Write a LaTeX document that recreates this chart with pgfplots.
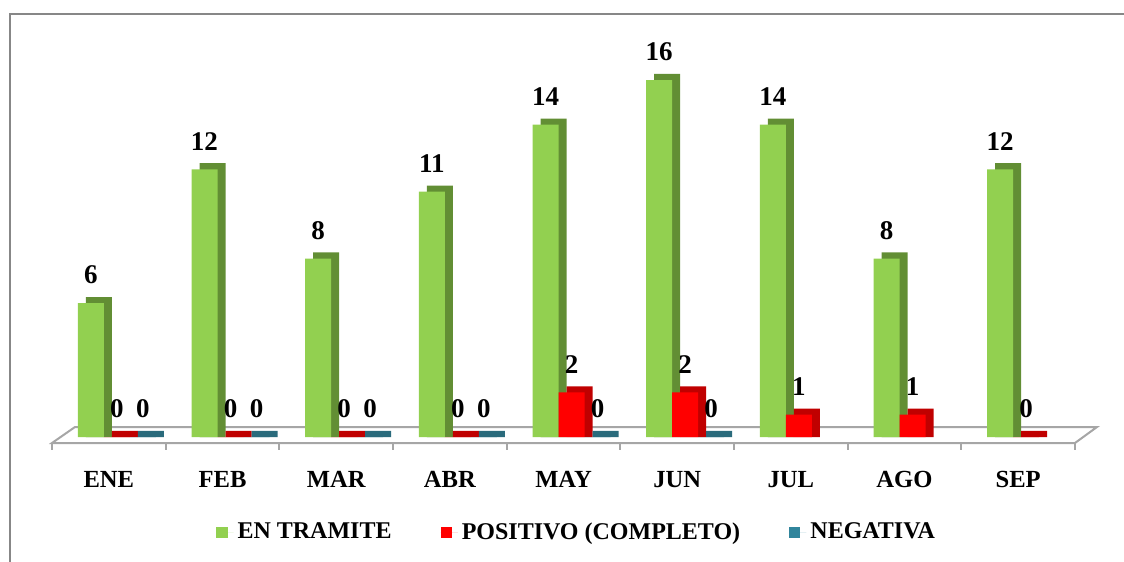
\documentclass[border=0pt]{standalone}
\usepackage{fontspec}
\setmainfont{Liberation Serif}
\usepackage{pgfplots}
\usepackage{pgfplotstable}
\pgfplotsset{compat=1.18}
\definecolor{gfront}{HTML}{92D050}
\definecolor{gdark}{HTML}{628E34}
\definecolor{rfront}{HTML}{FF0000}
\definecolor{rdark}{HTML}{C00000}
\definecolor{tfront}{HTML}{31859C}
\definecolor{tdark}{HTML}{2A6B7C}
\definecolor{bordergray}{HTML}{878787}
\definecolor{floorgray}{HTML}{A6A6A6}
\pgfplotstableread{
x g r t
0 6 0 0
1 12 0 0
2 8 0 0
3 11 0 0
4 14 2 0
5 16 2 0
6 14 1 nan
7 8 1 nan
8 12 0 nan
}\data
\pgfplotsset{
  vlabel/.style={every node near coord/.style={font=\fontsize{13.5}{16}\selectfont\bfseries, anchor=south, inner sep=0pt, yshift=9.3pt, xshift=#1}},
}
\begin{document}
\begin{tikzpicture}
\useasboundingbox (0,0) rectangle (562pt,281pt);
\begin{axis}[
  at={(30pt,62.5pt)}, anchor=south west,
  scale only axis, width=511.5pt, height=200.8pt,
  xmin=-0.5, xmax=8.5, ymin=0, ymax=18,
  enlargelimits=false, clip=false,
  /pgf/number format/assume math mode=true,
  hide y axis,
  axis x line*=bottom,
  x axis line style={draw=none},
  xtick={0,...,8},
  xticklabels={ENE,FEB,MAR,ABR,MAY,JUN,JUL,AGO,SEP},
  xtick style={draw=none},
  xticklabel style={font=\fontsize{12.3}{14}\selectfont\bfseries, anchor=base, yshift=-25pt, xshift=-4pt},
  legend columns=3,
  legend style={draw=none, fill=none, at={(0.506,-0.237)}, anchor=center,
    font=\fontsize{12}{14}\selectfont\bfseries,
    /tikz/every even column/.append style={column sep=22.5pt}},
  legend image code/.code={\path (0pt,0pt) -- (8.6pt,0pt); \fill[#1] (0pt,-2.8pt) rectangle (5.6pt,2.8pt);},
]
% floor
\draw[floorgray, line width=1pt, fill=white]
  ([shift={(-4pt,-3pt)}]axis cs:-0.5,0) -- ([shift={(-4pt,-3pt)}]axis cs:8.5,0)
  -- ([shift={(7pt,5pt)}]axis cs:8.5,0) -- ([shift={(7.5pt,5pt)}]axis cs:-0.5,0) -- cycle;
\pgfplotsinvokeforeach{-0.5,0.5,1.5,2.5,3.5,4.5,5.5,6.5,7.5,8.5}{
  \draw[floorgray, line width=1pt] ([shift={(-4pt,-3pt)}]axis cs:#1,0) -- ([shift={(-4pt,-6.5pt)}]axis cs:#1,0);
}
% green
\addplot[ybar, bar width=13pt, bar shift=-9pt, fill=gdark, draw=none, forget plot]
  table[x=x, y expr=\thisrow{g}+0.27] {\data};
\addplot[ybar, bar width=13pt, bar shift=-13pt, fill=gfront, draw=none, nodes near coords, vlabel=-13pt]
  table[x=x, y=g] {\data};
\addlegendentry{EN TRAMITE}
% red
\addplot[ybar, bar width=13pt, bar shift=4pt, fill=rdark, draw=none, forget plot]
  table[x=x, y expr=\thisrow{r}+0.27] {\data};
\addplot[ybar, bar width=13pt, bar shift=0pt, fill=rfront, draw=none, nodes near coords, vlabel=0pt]
  table[x=x, y=r] {\data};
\addlegendentry{POSITIVO (COMPLETO)}
% teal
\addplot[ybar, bar width=13pt, bar shift=17pt, fill=tdark, draw=none, forget plot]
  table[x=x, y expr=\thisrow{t}+0.27] {\data};
\addplot[ybar, bar width=13pt, bar shift=13pt, fill=tfront, draw=none, nodes near coords, vlabel=13pt]
  table[x=x, y=t] {\data};
\addlegendentry{NEGATIVA}
\end{axis}
\draw[bordergray, line width=1pt] (5pt,-20pt) rectangle (620pt,274pt);
\end{tikzpicture}
\end{document}
